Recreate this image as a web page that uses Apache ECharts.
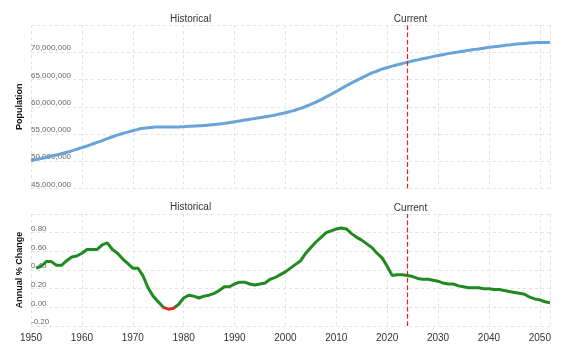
<!DOCTYPE html>
<html lang="en">
<head>
<meta charset="utf-8">
<title>Population</title>
<style>
  html, body { margin: 0; padding: 0; background: #fff; }
  #chart { width: 577px; height: 354px; }
</style>
</head>
<body>
<div id="chart"></div>
<script src="https://cdn.jsdelivr.net/npm/echarts@6/dist/echarts.min.js"></script>
<script>
// population in millions, one value per year from 1950
var popStart = 1950;
var population = [
  50.1, 50.3, 50.5, 50.7, 50.95, 51.15, 51.4, 51.65, 51.9, 52.2,
  52.5, 52.8, 53.15, 53.45, 53.8, 54.15, 54.5, 54.8, 55.1, 55.35,
  55.6, 55.85, 56.05, 56.15, 56.25, 56.3, 56.3, 56.3, 56.3, 56.3,
  56.35, 56.4, 56.45, 56.5, 56.55, 56.65, 56.75, 56.85, 56.95, 57.1,
  57.25, 57.4, 57.55, 57.7, 57.85, 58.0, 58.15, 58.3, 58.5, 58.7,
  58.9, 59.15, 59.4, 59.7, 60.05, 60.45, 60.85, 61.3, 61.8, 62.3,
  62.8, 63.35, 63.85, 64.35, 64.85, 65.3, 65.75, 66.2, 66.55, 66.9,
  67.2, 67.45, 67.7, 67.95, 68.15, 68.4, 68.6, 68.8, 69.0, 69.2,
  69.4, 69.55, 69.75, 69.9, 70.05, 70.2, 70.35, 70.5, 70.6, 70.75,
  70.9, 71.0, 71.1, 71.25, 71.35, 71.45, 71.55, 71.6, 71.7, 71.75,
  71.8, 71.8, 71.85
];
// annual % change, one value per year from 1951
var changeStart = 1951;
var change = [
  0.42, 0.44, 0.49, 0.49, 0.45, 0.45, 0.50, 0.54, 0.55,
  0.58, 0.62, 0.62, 0.62, 0.67, 0.69, 0.62, 0.58, 0.52, 0.47,
  0.42, 0.42, 0.34, 0.21, 0.12, 0.06, 0.00, -0.02, -0.01, 0.03,
  0.10, 0.13, 0.12, 0.10, 0.12, 0.13, 0.15, 0.18, 0.22, 0.22,
  0.25, 0.27, 0.27, 0.25, 0.24, 0.25, 0.26, 0.30, 0.32, 0.35,
  0.38, 0.42, 0.46, 0.50, 0.58, 0.64, 0.70, 0.75, 0.80, 0.82,
  0.84, 0.85, 0.84, 0.79, 0.75, 0.72, 0.68, 0.64, 0.58, 0.53,
  0.44, 0.34, 0.35, 0.35, 0.34, 0.33, 0.31, 0.30, 0.30, 0.29,
  0.28, 0.26, 0.25, 0.25, 0.23, 0.22, 0.21, 0.21, 0.21, 0.20,
  0.20, 0.19, 0.19, 0.18, 0.17, 0.16, 0.15, 0.14, 0.11, 0.09,
  0.08, 0.06, 0.05
];
var currentYear = 2024;
var popTicks = [45, 50, 55, 60, 65, 70, 75];
var changeTicks = [-0.2, 0, 0.2, 0.4, 0.6, 0.8, 1.0];

function pairs(start, arr, mult) {
  var res = [];
  for (var i = 0; i < arr.length; i++) res.push([start + i, arr[i] * mult]);
  return res;
}

var gridLine = { show: true, lineStyle: { color: '#e3e3e3', type: [3, 3], width: 1 } };
var fontFam = 'Liberation Sans, Arial, sans-serif';
var redLine = '#e02020';

function xAxisCfg(idx, labels) {
  return {
    type: 'value', gridIndex: idx, min: 1950, max: 2052, interval: 10,
    axisLine: { show: false }, axisTick: { show: false },
    splitLine: gridLine,
    axisLabel: {
      show: labels, color: '#333', fontSize: 10, fontFamily: fontFam, margin: 7,
      formatter: function (v) { return v % 10 === 0 ? String(v) : ''; }
    }
  };
}

function yAxisCfg(idx, name, ticks, mult, fmt) {
  return {
    type: 'value', gridIndex: idx,
    min: ticks[0] * mult, max: ticks[ticks.length - 1] * mult,
    interval: (ticks[1] - ticks[0]) * mult,
    name: name, nameLocation: 'middle', nameGap: 7, nameMoveOverlap: false,
    nameTextStyle: { color: '#111', fontSize: 9, fontWeight: 'bold', fontFamily: fontFam },
    axisLine: { show: false }, axisTick: { show: false },
    splitLine: gridLine,
    axisLabel: {
      inside: true, showMaxLabel: false, color: '#666', fontSize: 8, fontFamily: fontFam,
      verticalAlign: 'bottom', margin: 0, formatter: fmt
    }
  };
}

// vertical dashed "Current" marker spanning a grid's y range
function currentSeries(idx, ticks, mult) {
  return {
    type: 'line', xAxisIndex: idx, yAxisIndex: idx, silent: true,
    symbol: 'none', z: 5, color: redLine,
    data: [[currentYear, ticks[0] * mult], [currentYear, ticks[ticks.length - 1] * mult]],
    itemStyle: { color: redLine },
    lineStyle: { color: redLine, type: 'dashed', dashOffset: 0, width: 1.2 },
    endLabel: { show: true, formatter: 'Current', color: '#333', fontSize: 10,
      fontFamily: fontFam, align: 'center', verticalAlign: 'bottom', offset: [-5, -1] }
  };
}

var chart = echarts.init(document.getElementById('chart'), null, { renderer: 'canvas' });
chart.setOption({
  animation: false,
  grid: [
    { left: 31, right: 27, top: 25, height: 163.5 },
    { left: 31, right: 27, top: 214, height: 112 }
  ],
  graphic: [
    { type: 'text', left: 170, top: 14, style: { text: 'Historical', fill: '#333', fontSize: 10, fontFamily: fontFam } },
    { type: 'text', left: 170, top: 202, style: { text: 'Historical', fill: '#333', fontSize: 10, fontFamily: fontFam } }
  ],
  xAxis: [xAxisCfg(0, false), xAxisCfg(1, true)],
  yAxis: [
    yAxisCfg(0, 'Population', popTicks, 1e6, function (v) { return v.toLocaleString('en-US'); }),
    yAxisCfg(1, 'Annual % Change', changeTicks, 1, function (v) { return v.toFixed(2); })
  ],
  visualMap: {
    show: false, type: 'piecewise', seriesIndex: 1, dimension: 1,
    pieces: [
      { min: -1, max: 0, color: '#e8262a' },
      { min: 0, max: 2, color: '#1f8a1f' }
    ],
    outOfRange: { color: '#1f8a1f' }
  },
  series: [
    {
      type: 'line', xAxisIndex: 0, yAxisIndex: 0, smooth: true, showSymbol: false,
      data: pairs(popStart, population, 1e6),
      lineStyle: { color: '#6aa3d8', width: 3 }
    },
    {
      type: 'line', xAxisIndex: 1, yAxisIndex: 1, showSymbol: false,
      data: pairs(changeStart, change, 1),
      lineStyle: { width: 3 }
    },
    currentSeries(0, popTicks, 1e6),
    currentSeries(1, changeTicks, 1)
  ]
});
</script>
</body>
</html>
